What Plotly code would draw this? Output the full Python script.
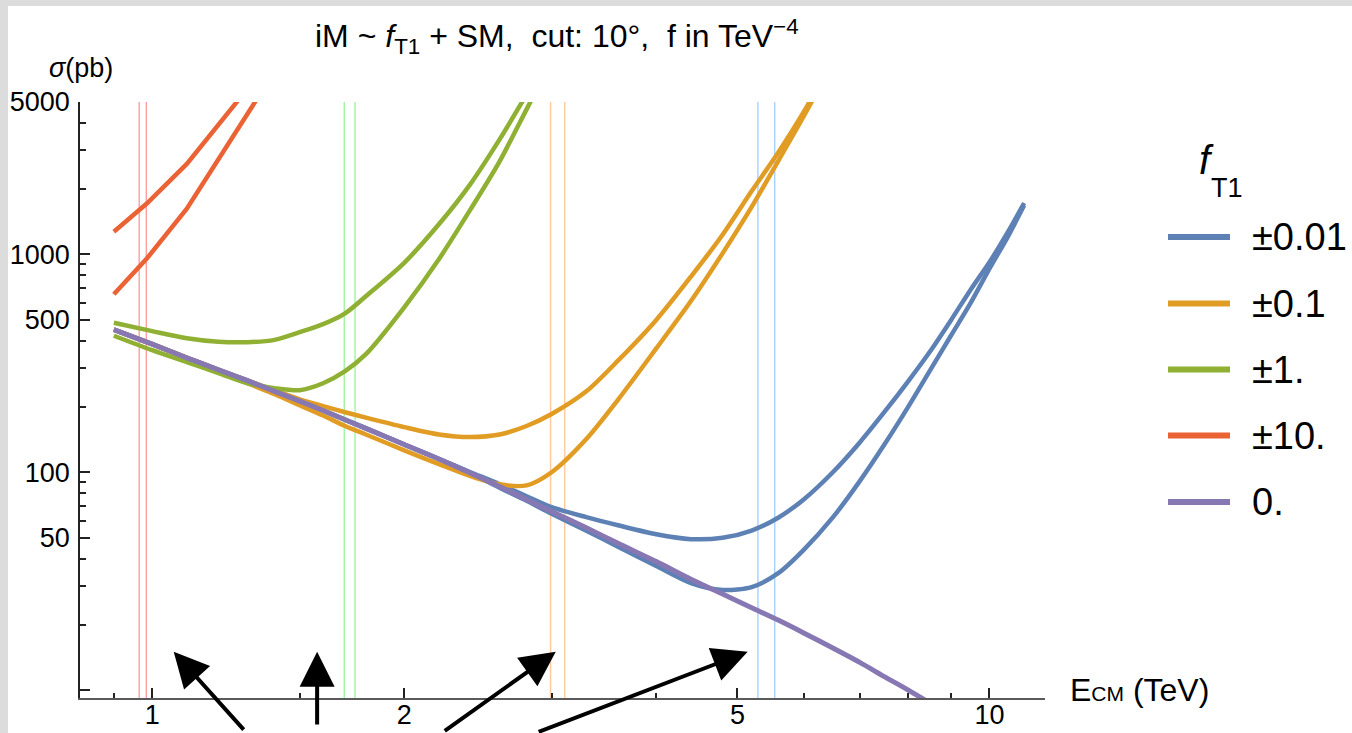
import math
import plotly.graph_objects as go

# ---------------- data ----------------
# centre-of-mass energy (TeV) and cross section sigma (pb)
E_sm = [0.9, 1.0, 1.1, 1.2, 1.3, 1.4, 1.5, 1.6, 1.7, 1.8, 2.0, 2.2, 2.4, 2.6, 2.8,
        3.0, 3.3, 3.6, 4.0, 4.4, 4.8, 5.2, 5.6, 6.0, 6.5, 7.0, 7.5, 8.0, 8.5]
sigma_sm = [451, 387, 335, 295, 263, 235, 212, 192, 174, 159, 134, 115, 99, 86, 75,
            66, 55.6, 47.2, 38.9, 32.3, 27.6, 23.9, 20.9, 18.3, 15.6, 13.4, 11.5, 10.0, 8.7]

E_blue = [0.9, 1.0, 1.1, 1.2, 1.3, 1.4, 1.5, 1.6, 1.7, 1.8, 2.0, 2.2, 2.4, 2.6, 2.8,
          3.0, 3.3, 3.6, 4.0, 4.4, 4.8, 5.2, 5.6, 6.0, 6.5, 7.0, 7.5, 8.0, 8.5, 9.0,
          9.5, 10.0, 10.5, 11.0]
sigma_blue_up = [451, 387, 335, 295, 263, 235, 212, 192, 174, 159, 134, 115, 100, 88.1, 77.6,
                 69.1, 62.2, 57.1, 51.9, 49.3, 50.0, 54.0, 62.0, 75.0, 100, 137, 190, 262, 360, 500,
                 690, 920, 1250, 1720]
sigma_blue_dn = [451, 387, 335, 295, 263, 235, 212, 192, 174, 159, 134, 115, 99, 84.9, 74.0,
                 64.5, 53.9, 45.5, 37.1, 31.0, 28.8, 29.7, 34.5, 44.0, 62.0, 91.0, 135, 200, 295, 425,
                 600, 860, 1190, 1680]

E_orange = [0.9, 1.0, 1.1, 1.2, 1.3, 1.4, 1.5, 1.6, 1.7, 1.8, 2.0, 2.2, 2.4, 2.6, 2.8,
            3.0, 3.3, 3.6, 4.0, 4.4, 4.8, 5.2, 5.6, 6.0, 6.5]
sigma_orange_up = [451, 387, 335, 295, 263, 238, 216, 201, 188.5, 178, 161, 149, 145, 149, 163,
                   185, 235, 325, 500, 790, 1230, 1950, 2950, 4500, 7800]
sigma_orange_dn = [451, 387, 335, 291, 256, 228, 203, 182, 163, 149, 126, 109, 96, 88, 87,
                   100, 142, 215, 370, 610, 1010, 1650, 2700, 4300, 7600]

E_green_up = [0.9, 1.0, 1.1, 1.2, 1.3, 1.4, 1.5, 1.6, 1.7, 1.8, 2.0, 2.2, 2.4, 2.6, 2.8]
sigma_green_up = [485, 444, 412, 397, 395, 405, 439, 478, 536, 642, 914, 1373, 2106, 3369, 5418]
E_green_dn = [0.9, 1.0, 1.1, 1.2, 1.3, 1.4, 1.5, 1.6, 1.7, 1.8, 2.0, 2.2, 2.4, 2.6, 2.8, 3.0]
sigma_green_dn = [423, 363, 320, 285, 256, 243, 238, 256, 291, 348, 571, 949, 1608, 2671, 4626, 7762]

E_red = [0.9, 0.986, 1.1, 1.2, 1.3, 1.4]
sigma_red_up = [1270, 1714, 2600, 3900, 5700, 8200]
sigma_red_dn = [655, 959, 1620, 2750, 4400, 6900]

# energies marked by the thin vertical lines (one pair per coupling)
bound_red = [0.965, 0.984]
bound_green = [1.696, 1.747]
bound_orange = [2.991, 3.110]
bound_blue = [5.29, 5.54]

legend_labels = ["\u00b10.01", "\u00b10.1", "\u00b11.", "\u00b110.", "0."]

x_tick_vals = [1, 2, 5, 10]
x_tick_text = ["1", "2", "5", "10"]
x_minor_vals = [0.9, 1.5, 3, 4, 6, 7, 8, 9]
y_tick_vals = [10, 50, 100, 500, 1000, 5000]
y_tick_text = ["", "50", "100", "500", "1000", "5000"]
y_minor_vals = [20, 30, 40, 60, 70, 80, 90, 200, 300, 400, 600, 700, 800, 900,
                2000, 3000, 4000]

# arrow tips (E in TeV, sigma in pb)
arrow_tips = [(1.061, 15.0), (1.574, 15.0), (3.034, 15.0), (5.143, 15.0)]

# ---------------- style ----------------
W, H = 1352, 733
ML, MR, MT, MB = 80, 307, 102, 35
X_MIN, X_MAX = 0.82, 11.65
Y_MIN, Y_MAX = 9.2, 5000
FONT = "Liberation Sans, Arial, sans-serif"

C_BLUE = "#5E81B5"
C_ORANGE = "#E19C24"
C_GREEN = "#8FB032"
C_RED = "#EB6235"
C_PURPLE = "#8778B3"
LW = 4.5


def paper_x(px):
    return (px - ML) / (W - ML - MR)


def paper_y(py):
    return (H - MB - py) / (H - MT - MB)


fig = go.Figure()

# thin vertical marker lines
for pair, col in [(bound_red, "#ff9f9f"), (bound_green, "#a3f2a3"),
                  (bound_orange, "#ffc99c"), (bound_blue, "#a9d0ff")]:
    xs, ys = [], []
    for e in pair:
        xs += [e, e, None]
        ys += [Y_MIN, Y_MAX, None]
    fig.add_trace(go.Scatter(x=xs, y=ys, mode="lines",
                             line=dict(color=col, width=1.4),
                             hoverinfo="skip", showlegend=False))


def curve(x, y, color, shape="spline", width=LW):
    fig.add_trace(go.Scatter(x=x, y=y, mode="lines",
                             line=dict(color=color, width=width, shape=shape,
                                       smoothing=0.8 if shape == "spline" else None),
                             showlegend=False))


curve(E_blue, sigma_blue_up, C_BLUE)
curve(E_blue, sigma_blue_dn, C_BLUE)
curve(E_orange, sigma_orange_up, C_ORANGE)
curve(E_orange, sigma_orange_dn, C_ORANGE)
curve(E_green_up, sigma_green_up, C_GREEN)
curve(E_green_dn, sigma_green_dn, C_GREEN)
curve(E_red, sigma_red_up, C_RED, shape="linear")
curve(E_red, sigma_red_dn, C_RED, shape="linear")
curve(E_sm, sigma_sm, C_PURPLE, width=5)

annotations = []

# arrows pointing at the vertical-line pairs
arrow_offsets = [(73, 92), (0, 92), (-114, 92), (-212, 92)]
for (e, s), (dx, dy) in zip(arrow_tips, arrow_offsets):
    annotations.append(dict(
        x=math.log10(e), y=math.log10(s), xref="x", yref="y",
        text=" ", showarrow=True, ax=dx, ay=dy, axref="pixel", ayref="pixel",
        arrowhead=2, arrowsize=1.75, arrowwidth=4, arrowcolor="black", standoff=0))

# title
annotations.append(dict(
    x=paper_x(557), y=paper_y(37), xref="paper", yref="paper",
    xanchor="center", yanchor="middle", showarrow=False,
    text="iM ~ <i>f</i><sub>T1</sub> + SM,\u00a0 cut: 10\u00b0,\u00a0 f in TeV<sup>\u22124</sup>",
    font=dict(family=FONT, size=32, color="black")))

# axis labels
annotations.append(dict(
    x=paper_x(47), y=paper_y(68), xref="paper", yref="paper",
    xanchor="left", yanchor="middle", showarrow=False,
    text="<i>\u03c3</i>(pb)", font=dict(family=FONT, size=27, color="black")))
annotations.append(dict(
    x=paper_x(1068), y=paper_y(690), xref="paper", yref="paper",
    xanchor="left", yanchor="middle", showarrow=False,
    text="E<span style='font-size:21px'>CM</span> (TeV)",
    font=dict(family=FONT, size=32, color="black")))

# legend title
annotations.append(dict(
    x=paper_x(1206), y=paper_y(160), xref="paper", yref="paper",
    xanchor="center", yanchor="middle", showarrow=False,
    text="<i>f</i>", font=dict(family=FONT, size=40, color="black")))
annotations.append(dict(
    x=paper_x(1209), y=paper_y(188), xref="paper", yref="paper",
    xanchor="left", yanchor="middle", showarrow=False,
    text="T1", font=dict(family=FONT, size=27, color="black")))

# page frame: grey border strips on the left and top, white elsewhere
shapes = [dict(type="rect", xref="paper", yref="paper", layer="below",
               x0=paper_x(8), x1=paper_x(W + 40), y0=paper_y(6), y1=paper_y(H + 40),
               fillcolor="white", line=dict(width=0))]

# legend entries
legend_colors = [C_BLUE, C_ORANGE, C_GREEN, C_RED, C_PURPLE]
legend_y = [237, 303.5, 369.5, 435.5, 502]
for lab, col, py in zip(legend_labels, legend_colors, legend_y):
    shapes.append(dict(type="line", xref="paper", yref="paper",
                       x0=paper_x(1168), x1=paper_x(1230), y0=paper_y(py), y1=paper_y(py),
                       line=dict(color=col, width=6)))
    annotations.append(dict(
        x=paper_x(1250), y=paper_y(py), xref="paper", yref="paper",
        xanchor="left", yanchor="middle", showarrow=False,
        text=lab, font=dict(family=FONT, size=38, color="black")))

fig.update_layout(
    width=W, height=H,
    margin=dict(l=ML, r=MR, t=MT, b=MB, pad=0, autoexpand=False),
    paper_bgcolor="#dcdcdc", plot_bgcolor="white",
    showlegend=False,
    annotations=annotations, shapes=shapes,
    font=dict(family=FONT, color="black"),
)

fig.update_xaxes(
    type="log", range=[math.log10(X_MIN), math.log10(X_MAX)], automargin=False,
    showgrid=False, zeroline=False,
    showline=True, linecolor="#5a5a5a", linewidth=2,
    tickmode="array", tickvals=x_tick_vals, ticktext=x_tick_text,
    ticks="inside", ticklen=10, tickwidth=1.5, tickcolor="#222222",
    tickfont=dict(family=FONT, size=27, color="black"), ticklabelstandoff=-8,
    minor=dict(tickmode="array", tickvals=x_minor_vals, ticks="inside",
               ticklen=5, tickwidth=1.5, tickcolor="#222222", showgrid=False),
)
fig.update_yaxes(
    type="log", range=[math.log10(Y_MIN), math.log10(Y_MAX)], automargin=False,
    showgrid=False, zeroline=False,
    showline=True, linecolor="#222222", linewidth=1.6,
    tickmode="array", tickvals=y_tick_vals, ticktext=y_tick_text,
    ticks="inside", ticklen=10, tickwidth=1.5, tickcolor="#222222",
    tickfont=dict(family=FONT, size=27, color="black"), ticklabelstandoff=3,
    minor=dict(tickmode="array", tickvals=y_minor_vals, ticks="inside",
               ticklen=6, tickwidth=1.5, tickcolor="#222222", showgrid=False),
)

fig.write_html("out.html")
